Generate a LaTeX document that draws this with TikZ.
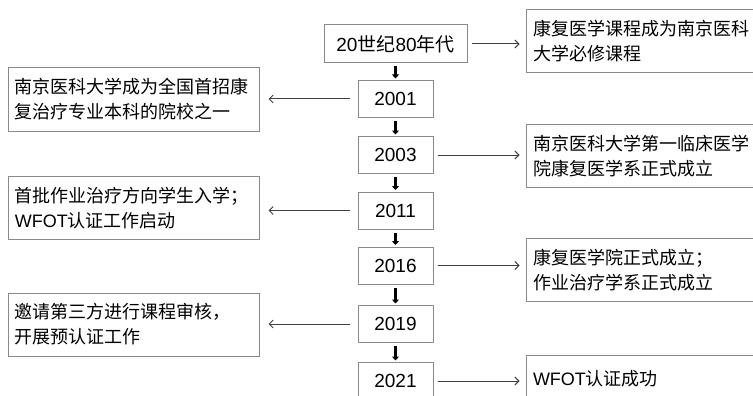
\documentclass[tikz,border=0pt]{standalone}
\usepackage{fontspec}
\setmainfont{Liberation Sans}
\newfontfamily\cjk{Noto Sans CJK SC}
\usetikzlibrary{arrows.meta}
\definecolor{boxline}{HTML}{8A8A8A}
\definecolor{arrline}{HTML}{404040}
\begin{document}
\begin{tikzpicture}[x=1pt,y=-1pt,
  yearbox/.style={draw=boxline, line width=1pt, minimum width=75pt, minimum height=37pt, inner sep=0pt,
    font=\fontsize{19}{22}\selectfont},
  leftbox/.style={draw=boxline, line width=1pt, text width=237pt, inner xsep=7pt, inner ysep=0pt,
    minimum height=63pt, align=left, font=\fontsize{18}{25}\selectfont\cjk},
  rightbox/.style={draw=boxline, line width=1pt, text width=266pt, inner xsep=7pt, inner ysep=0pt,
    minimum height=63pt, align=left, font=\fontsize{18}{25}\selectfont\cjk},
  sidearrow/.style={draw=arrline, line width=1pt, -{Straight Barb[length=4pt,width=8pt]}},
  downarrow/.style={draw=black, line width=2.6pt, -{Triangle[length=4pt,width=7pt]}, shorten <=3pt, shorten >=1.5pt}
]
\useasboundingbox (0,0) rectangle (753,396);
\clip (0,0) rectangle (753,396);
\fill[white] (0,0) rectangle (753,396);

% year boxes
\node[yearbox, minimum width=143pt, minimum height=38pt] (t0) at (395.5,44) {20{\cjk 世纪}80{\cjk 年代}};
\node[yearbox] (y1) at (395.5,99) {2001};
\node[yearbox] (y2) at (395.5,155) {2003};
\node[yearbox] (y3) at (395.5,210.5) {2011};
\node[yearbox] (y4) at (395.5,265.5) {2016};
\node[yearbox] (y5) at (395.5,324) {2019};
\node[yearbox] (y6) at (395.5,381) {2021};

% left boxes
\node[leftbox] (l1) at (133.5,99.5) {南京医科大学成为全国首招康\\复治疗专业本科的院校之一};
\node[leftbox] (l2) at (133.5,208) {首批作业治疗方向学生入学；\\{\fontspec{Liberation Sans}WFOT}认证工作启动};
\node[leftbox] (l3) at (133.5,324.5) {邀请第三方进行课程审核，\\开展预认证工作};

% right boxes
\node[rightbox] (r1) at (666,41.5) {康复医学课程成为南京医科\\大学必修课程};
\node[rightbox] (r2) at (666,156) {南京医科大学第一临床医学\\院康复医学系正式成立};
\node[rightbox] (r3) at (666,270) {康复医学院正式成立；\\作业治疗学系正式成立};
\node[rightbox, minimum height=48pt] (r4) at (666,379) {{\fontspec{Liberation Sans}WFOT}认证成功};

% down arrows
\draw[downarrow] (t0.south) -- (y1.north);
\draw[downarrow] (y1.south) -- (y2.north);
\draw[downarrow] (y2.south) -- (y3.north);
\draw[downarrow] (y3.south) -- (y4.north);
\draw[downarrow] (y4.south) -- (y5.north);
\draw[downarrow] (y5.south) -- (y6.north);

% side arrows
\draw[sidearrow, shorten <=4pt, shorten >=6pt] (t0.east) -- (t0.east -| r1.west);
\draw[sidearrow, shorten <=4pt, shorten >=6pt] (y2.east) -- (y2.east -| r2.west);
\draw[sidearrow, shorten <=4pt, shorten >=6pt] (y4.east) -- (y4.east -| r3.west);
\draw[sidearrow, shorten <=4pt, shorten >=6pt] (y6.east) -- (y6.east -| r4.west);
\draw[sidearrow, shorten <=8pt, shorten >=9pt] (y1.west) -- (y1.west -| l1.east);
\draw[sidearrow, shorten <=8pt, shorten >=9pt] (y3.west) -- (y3.west -| l2.east);
\draw[sidearrow, shorten <=8pt, shorten >=9pt] (y5.west) -- (y5.west -| l3.east);
\end{tikzpicture}
\end{document}
